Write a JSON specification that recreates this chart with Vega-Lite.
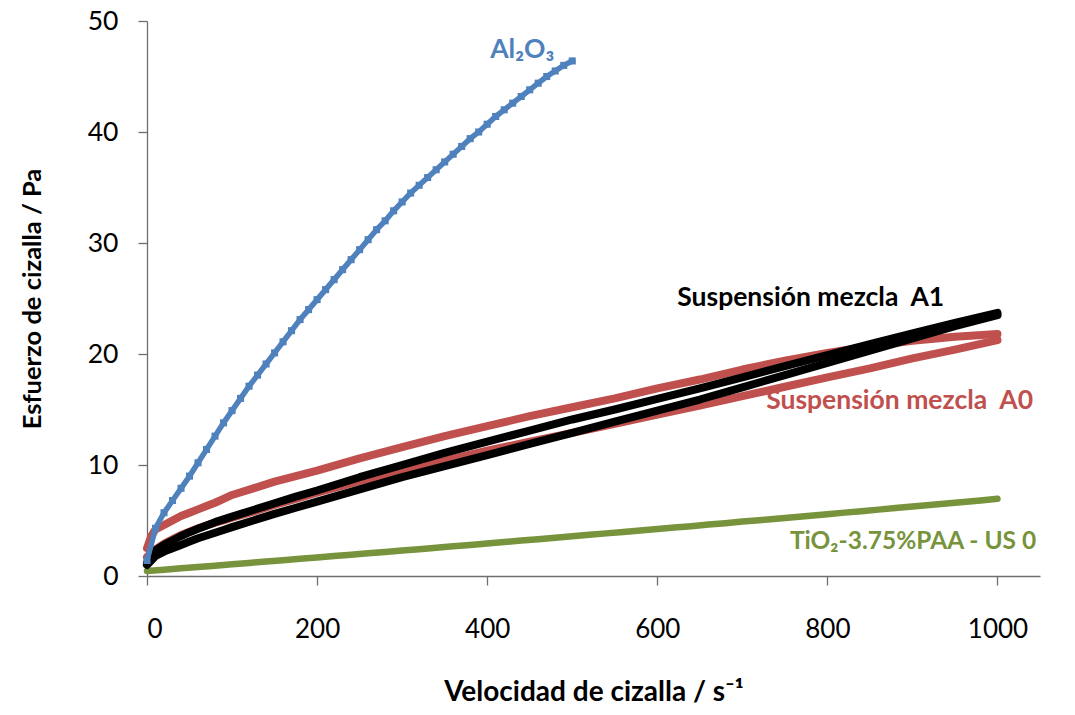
{
"$schema": "https://vega.github.io/schema/vega-lite/v6.json",
"width": 893, "height": 555,
"autosize": {"type": "none"},
"padding": {"left": 147, "top": 21, "right": 35, "bottom": 139},
"background": "white",
"config": {"view": {"stroke": null}, "font": "Lato"},
"datasets": {
"curves": [
{"s":"TiO2","x":0,"y":0.45},{"s":"TiO2","x":20,"y":0.57},{"s":"TiO2","x":40,"y":0.69},{"s":"TiO2","x":60,"y":0.81},{"s":"TiO2","x":80,"y":0.93},{"s":"TiO2","x":100,"y":1.06},{"s":"TiO2","x":120,"y":1.18},{"s":"TiO2","x":140,"y":1.30},{"s":"TiO2","x":160,"y":1.42},{"s":"TiO2","x":180,"y":1.55},{"s":"TiO2","x":200,"y":1.67},{"s":"TiO2","x":220,"y":1.80},{"s":"TiO2","x":240,"y":1.92},{"s":"TiO2","x":260,"y":2.04},{"s":"TiO2","x":280,"y":2.17},{"s":"TiO2","x":300,"y":2.30},{"s":"TiO2","x":320,"y":2.42},{"s":"TiO2","x":340,"y":2.55},{"s":"TiO2","x":360,"y":2.67},{"s":"TiO2","x":380,"y":2.80},{"s":"TiO2","x":400,"y":2.93},{"s":"TiO2","x":420,"y":3.06},{"s":"TiO2","x":440,"y":3.19},{"s":"TiO2","x":460,"y":3.32},{"s":"TiO2","x":480,"y":3.45},{"s":"TiO2","x":500,"y":3.58},{"s":"TiO2","x":520,"y":3.71},{"s":"TiO2","x":540,"y":3.84},{"s":"TiO2","x":560,"y":3.97},{"s":"TiO2","x":580,"y":4.10},{"s":"TiO2","x":600,"y":4.23},{"s":"TiO2","x":620,"y":4.36},{"s":"TiO2","x":640,"y":4.49},{"s":"TiO2","x":660,"y":4.63},{"s":"TiO2","x":680,"y":4.76},{"s":"TiO2","x":700,"y":4.90},{"s":"TiO2","x":720,"y":5.03},{"s":"TiO2","x":740,"y":5.16},{"s":"TiO2","x":760,"y":5.30},{"s":"TiO2","x":780,"y":5.43},{"s":"TiO2","x":800,"y":5.57},{"s":"TiO2","x":820,"y":5.71},{"s":"TiO2","x":840,"y":5.84},{"s":"TiO2","x":860,"y":5.98},{"s":"TiO2","x":880,"y":6.12},{"s":"TiO2","x":900,"y":6.26},{"s":"TiO2","x":920,"y":6.40},{"s":"TiO2","x":940,"y":6.53},{"s":"TiO2","x":960,"y":6.67},{"s":"TiO2","x":980,"y":6.81},{"s":"TiO2","x":1000,"y":6.95},

{"s":"A0u","x":0,"y":2.5},{"s":"A0u","x":5,"y":3.6},{"s":"A0u","x":10,"y":4.2},{"s":"A0u","x":20,"y":4.6},{"s":"A0u","x":30,"y":5.0},{"s":"A0u","x":40,"y":5.4},{"s":"A0u","x":50,"y":5.7},{"s":"A0u","x":60,"y":6.0},{"s":"A0u","x":70,"y":6.3},{"s":"A0u","x":80,"y":6.6},{"s":"A0u","x":90,"y":6.95},{"s":"A0u","x":100,"y":7.3},{"s":"A0u","x":125,"y":7.9},{"s":"A0u","x":150,"y":8.5},{"s":"A0u","x":175,"y":9.0},{"s":"A0u","x":200,"y":9.5},{"s":"A0u","x":250,"y":10.6},{"s":"A0u","x":300,"y":11.6},{"s":"A0u","x":350,"y":12.6},{"s":"A0u","x":400,"y":13.5},{"s":"A0u","x":450,"y":14.4},{"s":"A0u","x":500,"y":15.2},{"s":"A0u","x":550,"y":16.0},{"s":"A0u","x":600,"y":16.9},{"s":"A0u","x":650,"y":17.7},{"s":"A0u","x":700,"y":18.6},{"s":"A0u","x":750,"y":19.4},{"s":"A0u","x":800,"y":20.1},{"s":"A0u","x":850,"y":20.7},{"s":"A0u","x":900,"y":21.2},{"s":"A0u","x":950,"y":21.55},{"s":"A0u","x":1000,"y":21.8},

{"s":"A0d","x":0,"y":1.7},{"s":"A0d","x":5,"y":2.1},{"s":"A0d","x":10,"y":2.4},{"s":"A0d","x":20,"y":2.9},{"s":"A0d","x":30,"y":3.3},{"s":"A0d","x":40,"y":3.7},{"s":"A0d","x":50,"y":4.0},{"s":"A0d","x":60,"y":4.3},{"s":"A0d","x":70,"y":4.55},{"s":"A0d","x":80,"y":4.8},{"s":"A0d","x":90,"y":5.0},{"s":"A0d","x":100,"y":5.25},{"s":"A0d","x":125,"y":5.8},{"s":"A0d","x":150,"y":6.4},{"s":"A0d","x":175,"y":6.95},{"s":"A0d","x":200,"y":7.5},{"s":"A0d","x":250,"y":8.55},{"s":"A0d","x":300,"y":9.5},{"s":"A0d","x":350,"y":10.4},{"s":"A0d","x":400,"y":11.3},{"s":"A0d","x":450,"y":12.1},{"s":"A0d","x":500,"y":12.9},{"s":"A0d","x":550,"y":13.7},{"s":"A0d","x":600,"y":14.55},{"s":"A0d","x":650,"y":15.35},{"s":"A0d","x":700,"y":16.2},{"s":"A0d","x":750,"y":17.05},{"s":"A0d","x":800,"y":17.9},{"s":"A0d","x":850,"y":18.7},{"s":"A0d","x":900,"y":19.6},{"s":"A0d","x":950,"y":20.4},{"s":"A0d","x":1000,"y":21.25},

{"s":"A1u","x":0,"y":1.2},{"s":"A1u","x":5,"y":1.9},{"s":"A1u","x":10,"y":2.3},{"s":"A1u","x":20,"y":2.8},{"s":"A1u","x":30,"y":3.2},{"s":"A1u","x":40,"y":3.6},{"s":"A1u","x":50,"y":3.95},{"s":"A1u","x":60,"y":4.25},{"s":"A1u","x":70,"y":4.55},{"s":"A1u","x":80,"y":4.85},{"s":"A1u","x":90,"y":5.1},{"s":"A1u","x":100,"y":5.35},{"s":"A1u","x":125,"y":5.95},{"s":"A1u","x":150,"y":6.55},{"s":"A1u","x":175,"y":7.15},{"s":"A1u","x":200,"y":7.7},{"s":"A1u","x":250,"y":8.9},{"s":"A1u","x":300,"y":10.0},{"s":"A1u","x":350,"y":11.1},{"s":"A1u","x":400,"y":12.1},{"s":"A1u","x":450,"y":13.1},{"s":"A1u","x":500,"y":14.1},{"s":"A1u","x":550,"y":15.0},{"s":"A1u","x":600,"y":15.95},{"s":"A1u","x":650,"y":16.9},{"s":"A1u","x":700,"y":17.9},{"s":"A1u","x":750,"y":18.9},{"s":"A1u","x":800,"y":19.9},{"s":"A1u","x":850,"y":20.9},{"s":"A1u","x":900,"y":21.85},{"s":"A1u","x":950,"y":22.8},{"s":"A1u","x":1000,"y":23.7},

{"s":"A1d","x":0,"y":1.0},{"s":"A1d","x":5,"y":1.4},{"s":"A1d","x":10,"y":1.8},{"s":"A1d","x":20,"y":2.2},{"s":"A1d","x":30,"y":2.5},{"s":"A1d","x":40,"y":2.8},{"s":"A1d","x":50,"y":3.1},{"s":"A1d","x":60,"y":3.4},{"s":"A1d","x":70,"y":3.65},{"s":"A1d","x":80,"y":3.9},{"s":"A1d","x":90,"y":4.15},{"s":"A1d","x":100,"y":4.4},{"s":"A1d","x":125,"y":5.0},{"s":"A1d","x":150,"y":5.6},{"s":"A1d","x":175,"y":6.15},{"s":"A1d","x":200,"y":6.7},{"s":"A1d","x":250,"y":7.8},{"s":"A1d","x":300,"y":8.9},{"s":"A1d","x":350,"y":9.9},{"s":"A1d","x":400,"y":10.9},{"s":"A1d","x":450,"y":11.9},{"s":"A1d","x":500,"y":12.9},{"s":"A1d","x":550,"y":13.9},{"s":"A1d","x":600,"y":14.9},{"s":"A1d","x":650,"y":15.9},{"s":"A1d","x":700,"y":17.0},{"s":"A1d","x":750,"y":18.1},{"s":"A1d","x":800,"y":19.2},{"s":"A1d","x":850,"y":20.3},{"s":"A1d","x":900,"y":21.4},{"s":"A1d","x":950,"y":22.5},{"s":"A1d","x":1000,"y":23.5},

{"s":"Al2O3","x":0,"y":1.4},{"s":"Al2O3","x":10,"y":4.3},{"s":"Al2O3","x":20,"y":5.7},{"s":"Al2O3","x":30,"y":6.8},{"s":"Al2O3","x":40,"y":7.9},{"s":"Al2O3","x":50,"y":9.0},{"s":"Al2O3","x":60,"y":10.2},{"s":"Al2O3","x":70,"y":11.4},{"s":"Al2O3","x":80,"y":12.6},{"s":"Al2O3","x":90,"y":13.8},{"s":"Al2O3","x":100,"y":14.9},{"s":"Al2O3","x":110,"y":16.0},{"s":"Al2O3","x":120,"y":17.1},{"s":"Al2O3","x":130,"y":18.1},{"s":"Al2O3","x":140,"y":19.1},{"s":"Al2O3","x":150,"y":20.1},{"s":"Al2O3","x":160,"y":21.1},{"s":"Al2O3","x":170,"y":22.1},{"s":"Al2O3","x":180,"y":23.1},{"s":"Al2O3","x":190,"y":24.0},{"s":"Al2O3","x":200,"y":24.9},{"s":"Al2O3","x":210,"y":25.8},{"s":"Al2O3","x":220,"y":26.7},{"s":"Al2O3","x":230,"y":27.6},{"s":"Al2O3","x":240,"y":28.5},{"s":"Al2O3","x":250,"y":29.4},{"s":"Al2O3","x":260,"y":30.3},{"s":"Al2O3","x":270,"y":31.2},{"s":"Al2O3","x":280,"y":32.0},{"s":"Al2O3","x":290,"y":32.9},{"s":"Al2O3","x":300,"y":33.7},{"s":"Al2O3","x":310,"y":34.5},{"s":"Al2O3","x":320,"y":35.2},{"s":"Al2O3","x":330,"y":35.9},{"s":"Al2O3","x":340,"y":36.6},{"s":"Al2O3","x":350,"y":37.3},{"s":"Al2O3","x":360,"y":38.0},{"s":"Al2O3","x":370,"y":38.7},{"s":"Al2O3","x":380,"y":39.4},{"s":"Al2O3","x":390,"y":40.0},{"s":"Al2O3","x":400,"y":40.7},{"s":"Al2O3","x":410,"y":41.4},{"s":"Al2O3","x":420,"y":42.0},{"s":"Al2O3","x":430,"y":42.6},{"s":"Al2O3","x":440,"y":43.2},{"s":"Al2O3","x":450,"y":43.8},{"s":"Al2O3","x":460,"y":44.4},{"s":"Al2O3","x":470,"y":45.0},{"s":"Al2O3","x":480,"y":45.5},{"s":"Al2O3","x":490,"y":46.0},{"s":"Al2O3","x":500,"y":46.4}
],
"labels": [
{"t":"Al₂O₃","x":403.5,"y":47.4},
{"t":"Suspensión mezcla\u00a0\u00a0A1","x":623.5,"y":25.05},
{"t":"Suspensión mezcla\u00a0\u00a0A0","x":728,"y":15.8},
{"t":"TiO₂-3.75%PAA - US 0","x":756,"y":3.05}
]
},
"encoding": {
"x": {"field": "x", "type": "quantitative",
  "scale": {"domain": [0, 1050], "nice": false, "zero": false},
  "axis": {"title": "Velocidad de cizalla / s⁻¹", "values": [0,200,400,600,800,1000], "format": "d", "grid": false,
    "domainColor": "#6e6e6e", "tickColor": "#6e6e6e", "tickSize": 9, "domainWidth": 1.3, "tickWidth": 1.3,
    "labelFontSize": 26, "labelColor": "black", "labelPadding": 31, "labelFont": "Lato",
    "titleFontSize": 28, "titleFontWeight": "bold", "titleColor": "black", "titlePadding": 36, "titleFont": "Lato"}},
"y": {"field": "y", "type": "quantitative",
  "scale": {"domain": [0, 50], "nice": false},
  "axis": {"title": "Esfuerzo de cizalla / Pa", "values": [0,10,20,30,40,50], "grid": false,
    "domainColor": "#6e6e6e", "tickColor": "#6e6e6e", "tickSize": 9, "domainWidth": 1.3, "tickWidth": 1.3,
    "labelFontSize": 26.5, "labelColor": "black", "labelPadding": 20, "labelFont": "Lato",
    "titleFontSize": 25.5, "titleFontWeight": "bold", "titleColor": "black", "titlePadding": 42, "titleFont": "Lato"}}
},
"layer": [
{"data": {"name": "curves"}, "transform": [{"filter": "datum.s == 'TiO2'"}],
 "mark": {"type": "line", "color": "#77933C", "strokeWidth": 6.5, "strokeCap": "round", "strokeJoin": "round"}},
{"data": {"name": "curves"}, "transform": [{"filter": "datum.s == 'A0u' || datum.s == 'A0d'"}],
 "mark": {"type": "line", "color": "#C0504D", "strokeWidth": 8, "strokeCap": "round", "strokeJoin": "round"},
 "encoding": {"detail": {"field": "s"}}},
{"data": {"name": "curves"}, "transform": [{"filter": "datum.s == 'A1u' || datum.s == 'A1d'"}],
 "mark": {"type": "line", "color": "#000000", "strokeWidth": 8, "strokeCap": "round", "strokeJoin": "round"},
 "encoding": {"detail": {"field": "s"}}},
{"data": {"name": "curves"}, "transform": [{"filter": "datum.s == 'Al2O3'"}],
 "mark": {"type": "line", "color": "#4F81BD", "strokeWidth": 5.5, "strokeCap": "square"}},
{"data": {"name": "curves"}, "transform": [{"filter": "datum.s == 'Al2O3'"}],
 "mark": {"type": "point", "shape": "square", "filled": true, "color": "#4F81BD", "size": 50, "opacity": 1}},
{"data": {"name": "labels"}, "transform": [{"filter": "datum.t != 'TiO₂-3.75%PAA - US 0'"}],
 "mark": {"type": "text", "align": "left", "baseline": "middle", "font": "Lato", "fontWeight": "bold", "fontSize": 26.5},
 "encoding": {"text": {"field": "t"},
   "color": {"field": "t", "type": "nominal", "legend": null,
     "scale": {"domain": ["Al₂O₃", "Suspensión mezcla\u00a0\u00a0A1", "Suspensión mezcla\u00a0\u00a0A0"],
               "range": ["#4F81BD", "#000000", "#C0504D"]}}}},
{"data": {"name": "labels"}, "transform": [{"filter": "datum.t == 'TiO₂-3.75%PAA - US 0'"}],
 "mark": {"type": "text", "align": "left", "baseline": "middle", "font": "Lato", "fontWeight": "bold", "fontSize": 24.5, "color": "#77933C"},
 "encoding": {"text": {"field": "t"}}}
]
}
